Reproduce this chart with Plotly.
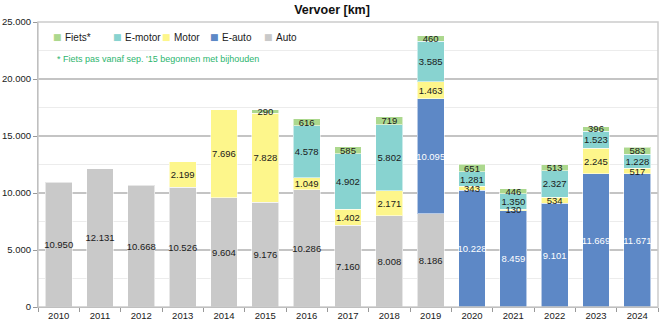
import plotly.graph_objects as go

years = [str(y) for y in range(2010, 2025)]
auto   = [10950, 12131, 10668, 10526, 9604, 9176, 10286, 7160, 8008, 8186, None, None, None, None, None]
e_auto = [None, None, None, None, None, None, None, None, None, 10095, 10228, 8459, 9101, 11669, 11671]
motor  = [None, None, None, 2199, 7696, 7828, 1049, 1402, 2171, 1463, 343, 130, 534, 2245, 517]
e_motor = [None, None, None, None, None, None, 4578, 4902, 5802, 3585, 1281, 1350, 2327, 1523, 1228]
fiets  = [None, None, None, None, None, 290, 616, 585, 719, 460, 651, 446, 513, 396, 583]

series = [
    ("Auto", auto, "#c9c9c9", "#1a1a1a"),
    ("E-auto", e_auto, "#5d88c6", "#ffffff"),
    ("Motor", motor, "#fdf68b", "#1a1a1a"),
    ("E-motor", e_motor, "#88d3d0", "#1a1a1a"),
    ("Fiets*", fiets, "#acd88e", "#1a1a1a"),
]

FONT = "Liberation Sans, Arial, sans-serif"
L, R, T, B = 38, 6, 22, 21
W, H = 664, 328
PW, PH = W - L - R, H - T - B

fig = go.Figure()
# coloured bars
for name, vals, col, tcol in series:
    fig.add_trace(go.Bar(
        name=name, x=years, y=vals, showlegend=False,
        marker=dict(color=col, line=dict(color="rgba(255,255,255,0.55)", width=1)),
        hoverinfo="skip",
    ))
# transparent overlay bars carrying the value labels (drawn above every bar)
for name, vals, col, tcol in series:
    fig.add_trace(go.Bar(
        name=name, x=years, y=vals, showlegend=False, xaxis="x2", yaxis="y2",
        marker=dict(color="rgba(0,0,0,0)", line=dict(width=0)),
        texttemplate="%{y:,.0f}", textposition="inside", insidetextanchor="middle",
        constraintext="none", textangle=0,
        textfont=dict(color=tcol, size=9.5, family=FONT),
    ))

# manual legend (order: Fiets*, E-motor, Motor, E-auto, Auto)
legend_px = [57, 117, 166, 214, 268]
annotations = []
for (name, vals, col, tcol), px in zip(reversed(series), legend_px):
    xp = (px - L) / PW
    annotations.append(dict(text="■", xref="paper", yref="paper", x=xp, y=(H - B - 37) / PH,
                            xanchor="center", yanchor="middle", showarrow=False,
                            font=dict(size=9, color=col, family="DejaVu Sans")))
    annotations.append(dict(text=name, xref="paper", yref="paper", x=xp + 6 / PW, y=(H - B - 37) / PH,
                            xanchor="left", yanchor="middle", showarrow=False,
                            font=dict(size=10, color="#1a1a1a", family=FONT)))
annotations.append(dict(text="* Fiets pas vanaf sep. '15 begonnen met bijhouden", xref="paper", yref="paper",
                        x=(55 - L) / PW, y=(H - B - 59) / PH, xanchor="left", yanchor="middle", showarrow=False,
                        font=dict(size=9, color="#2db56e", family=FONT)))

fig.update_layout(
    barmode="stack", bargap=0.35,
    width=W, height=H,
    margin=dict(l=L, r=R, t=T, b=B),
    separators=",.",
    paper_bgcolor="white", plot_bgcolor="white",
    font=dict(family=FONT, size=9.5, color="#1a1a1a"),
    title=dict(text="<b>Vervoer [km]</b>", x=0.5, xanchor="center", y=0.985, yanchor="top",
               font=dict(size=12.5, color="#111")),
    showlegend=False,
    xaxis=dict(tickson="boundaries", ticks="outside", ticklen=4, tickcolor="#999",
               showline=True, linecolor="#999", linewidth=1, showgrid=False, automargin=False,
               tickfont=dict(size=9.5)),
    yaxis=dict(range=[0, 25000], dtick=5000, tickformat=",.0f", ticks="outside", ticklen=4,
               tickcolor="#999", showline=True, linecolor="#999", linewidth=1,
               gridcolor="#c4c4c4", gridwidth=1.5, zeroline=False, automargin=False,
               minor=dict(dtick=2500, showgrid=True, gridcolor="#ececec", gridwidth=1),
               tickfont=dict(size=9.5)),
    xaxis2=dict(overlaying="x", matches="x", visible=False, categoryorder="array", categoryarray=years),
    yaxis2=dict(overlaying="y", range=[0, 25000], visible=False, showgrid=False),
    annotations=annotations,
    shapes=[dict(type="rect", xref="paper", yref="paper", x0=0, x1=1, y0=0, y1=1,
                 line=dict(color="#cccccc", width=1.5), layer="above")],
)

fig.write_html("out.html")
